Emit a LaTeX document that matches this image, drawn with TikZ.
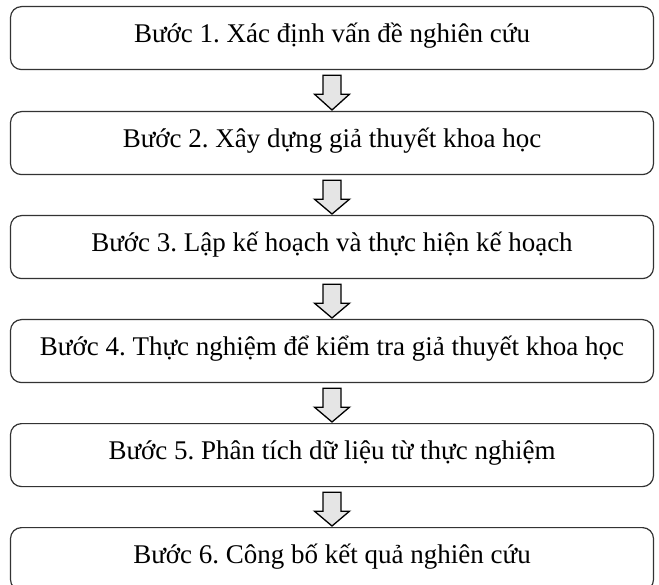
\documentclass[tikz,border=0pt]{standalone}
\usepackage{fontspec}
\setmainfont{Liberation Serif}
\usetikzlibrary{calc}
\tikzset{
  stepbox/.style={draw=black!80, line width=1.2pt, rounded corners=11pt, fill=white,
    minimum width=643pt, minimum height=63pt, inner sep=0pt, anchor=north,
    text height=15pt, text depth=6pt,
    font=\fontsize{27}{31}\selectfont\frenchspacing},
  blockarr/.style={draw=black, line width=1.3pt, fill=black!10, line join=miter}
}
\newcommand{\blockarrow}[2]{%
  \draw[blockarr] ($(#1.south)+(-9,5)$) -- ($(#1.south)+(9,5)$) -- ($(#1.south)+(9,24)$)
    -- ($(#1.south)+(17.5,24)$) -- ($(#2.north)+(0,-1)$) -- ($(#1.south)+(-17.5,24)$)
    -- ($(#1.south)+(-9,24)$) -- cycle;}
\begin{document}
\begin{tikzpicture}[x=1pt,y=-1pt]
\useasboundingbox (0,0) rectangle (659,585);
\clip (0,0) rectangle (659,585);
\node[stepbox] (b1) at (332,6) {Bước 1. Xác định vấn đề nghiên cứu};
\node[stepbox] (b2) at (332,111) {Bước 2. Xây dựng giả thuyết khoa học};
\node[stepbox] (b3) at (332,215) {Bước 3. Lập kế hoạch và thực hiện kế hoạch};
\node[stepbox] (b4) at (332,319) {Bước 4. Thực nghiệm để kiểm tra giả thuyết khoa học};
\node[stepbox] (b5) at (332,423) {Bước 5. Phân tích dữ liệu từ thực nghiệm};
\node[stepbox] (b6) at (332,527) {Bước 6. Công bố kết quả nghiên cứu};
\blockarrow{b1}{b2}
\blockarrow{b2}{b3}
\blockarrow{b3}{b4}
\blockarrow{b4}{b5}
\blockarrow{b5}{b6}
\end{tikzpicture}
\end{document}
